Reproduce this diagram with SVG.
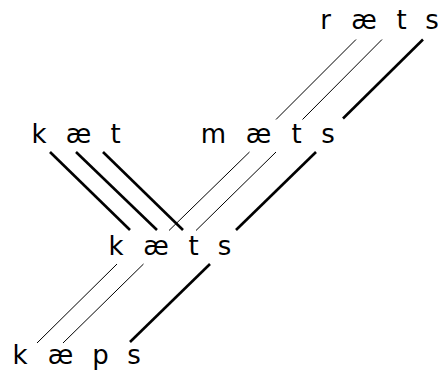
<svg xmlns="http://www.w3.org/2000/svg" width="438" height="372" viewBox="0 0 438 372">
<style>
text{font-family:"DejaVu Sans",sans-serif;font-size:26px;fill:#000;text-anchor:middle}
.thin{stroke:#000;stroke-width:1;fill:none}
.thick{stroke:#000;stroke-width:2.6;fill:none}
</style>
<rect width="438" height="372" fill="#fff"/>
<g id="connectors">
<line class="thin" x1="356" y1="39.5" x2="276" y2="119.5"/>
<line class="thin" x1="382" y1="39.5" x2="302.5" y2="119.5"/>
<line class="thick" x1="423" y1="39.5" x2="343" y2="118.5"/>
<line class="thick" x1="50" y1="152" x2="130" y2="230"/>
<line class="thick" x1="76" y1="152" x2="157" y2="230"/>
<line class="thick" x1="103" y1="152" x2="183" y2="230"/>
<line class="thin" x1="249.5" y1="152" x2="169" y2="230.5"/>
<line class="thin" x1="276" y1="152" x2="196" y2="230.5"/>
<line class="thick" x1="316" y1="152" x2="236" y2="230"/>
<line class="thin" x1="117" y1="264" x2="37" y2="343"/>
<line class="thin" x1="143.5" y1="264" x2="63" y2="343"/>
<line class="thick" x1="210" y1="264" x2="130" y2="342"/>
</g>
<g id="rats"><text x="325.5" y="29">r</text><text x="364" y="29">æ</text><text x="401.5" y="29">t</text><text x="432" y="29">s</text></g>
<g id="kat"><text x="39" y="143">k</text><text x="78.5" y="143">æ</text><text x="115.5" y="143">t</text></g>
<g id="mats"><text x="213.5" y="143">m</text><text x="258.5" y="143">æ</text><text x="296.5" y="143">t</text><text x="328" y="143">s</text></g>
<g id="kats"><text x="116" y="255">k</text><text x="156" y="255">æ</text><text x="193.5" y="255">t</text><text x="224.5" y="255">s</text></g>
<g id="kaps"><text x="20" y="364">k</text><text x="60.5" y="364">æ</text><text x="100.5" y="364">p</text><text x="134" y="364">s</text></g>
</svg>
